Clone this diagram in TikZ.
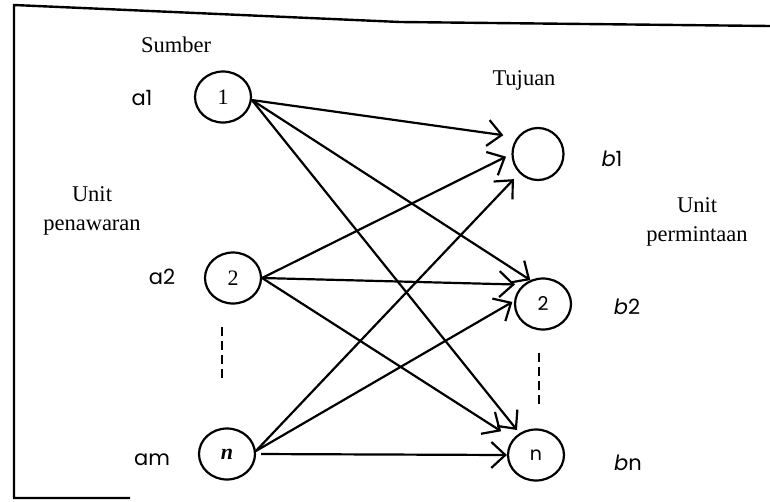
\documentclass[tikz,border=0pt]{standalone}
\usepackage{fontspec}
\setmainfont{Liberation Serif}
\newfontfamily\geo{Poppins}
\usetikzlibrary{arrows.meta,shapes.geometric}
\begin{document}
\begin{tikzpicture}[x=1pt,y=-1pt,
  every node/.style={inner sep=0pt},
  place/.style={ellipse, draw, line width=2.2pt, minimum width=56pt, minimum height=51pt, font=\fontsize{22}{22}\selectfont},
  lbl/.style={font=\fontsize{22.5}{28.5}\selectfont, align=center},
  var/.style={font=\geo\fontsize{21}{21}\selectfont},
  flow/.style={line width=2.2pt, -{Straight Barb[length=14pt,width=26pt,line width=2.2pt]}},
  frame/.style={line width=2.4pt},
  dots/.style={line width=2.4pt, dash pattern=on 9pt off 5pt}]
\useasboundingbox (0,0) rectangle (770,501);
% frame
\coordinate (f1) at (770,26);
\coordinate (f2) at (400,22);
\coordinate (f3) at (14,5);
\coordinate (f4) at (14,498);
\coordinate (f5) at (130,498);
\draw[frame] (f1) -- (f2) -- (f3) -- (f4) -- (f5);
% nodes
\node[place] (s1) at (223,97) {1};
\node[place] (s2) at (233,278) {2};
\node[place] (sn) at (227,454) {\textit{\textbf{n}}};
\node[place, minimum width=51pt, minimum height=52pt] (d1) at (538,154) {};
\node[place] (d2) at (543,304) {\geo\fontsize{19}{19}\selectfont 2};
\node[place] (dn) at (536,455) {\geo\fontsize{19}{19}\selectfont n};
% labels
\node[lbl] (sumber) at (176,45) {Sumber};
\node[lbl] (tujuan) at (524,80) {Tujuan};
\node[lbl] (penawaran) at (92,211) {Unit\\penawaran};
\node[lbl] (permintaan) at (697,222) {Unit\\permintaan};
\node[var] (a1) at (142,98) {a1};
\node[var] (a2) at (162,277) {a2};
\node[var] (am) at (152,460) {am};
\node[var] (b1) at (612,159) {\textit{b}1};
\node[var] (b2) at (627,307) {\textit{b}2};
\node[var] (bn) at (628,463) {\textit{b}n};
% dashed marks
\coordinate (u1) at (222,327);
\coordinate (u2) at (222,378);
\coordinate (v1) at (539,353);
\coordinate (v2) at (539,405);
\draw[dots] (u1) -- (u2);
\draw[dots] (v1) -- (v2);
% flows
\draw[flow, shorten >=14pt] (s1.-6) -- (d1.141);
\draw[flow] (s1.-6) -- (d2.118);
\draw[flow, shorten >=4pt] (s1.-6) -- (dn.127);
\draw[flow, shorten >=6pt] (s2.0) -- (d1.180);
\draw[flow, shorten >=8pt] (s2.0) -- (d2.136);
\draw[flow, shorten >=14pt] (s2.0) -- (dn.145);
\draw[flow, shorten >=8pt] (sn.6) -- (d1.226);
\draw[flow, shorten >=2pt] (sn.6) -- (d2.174);
\draw[flow, shorten <=5pt] (sn.0) -- (dn.180);
\end{tikzpicture}
\end{document}
